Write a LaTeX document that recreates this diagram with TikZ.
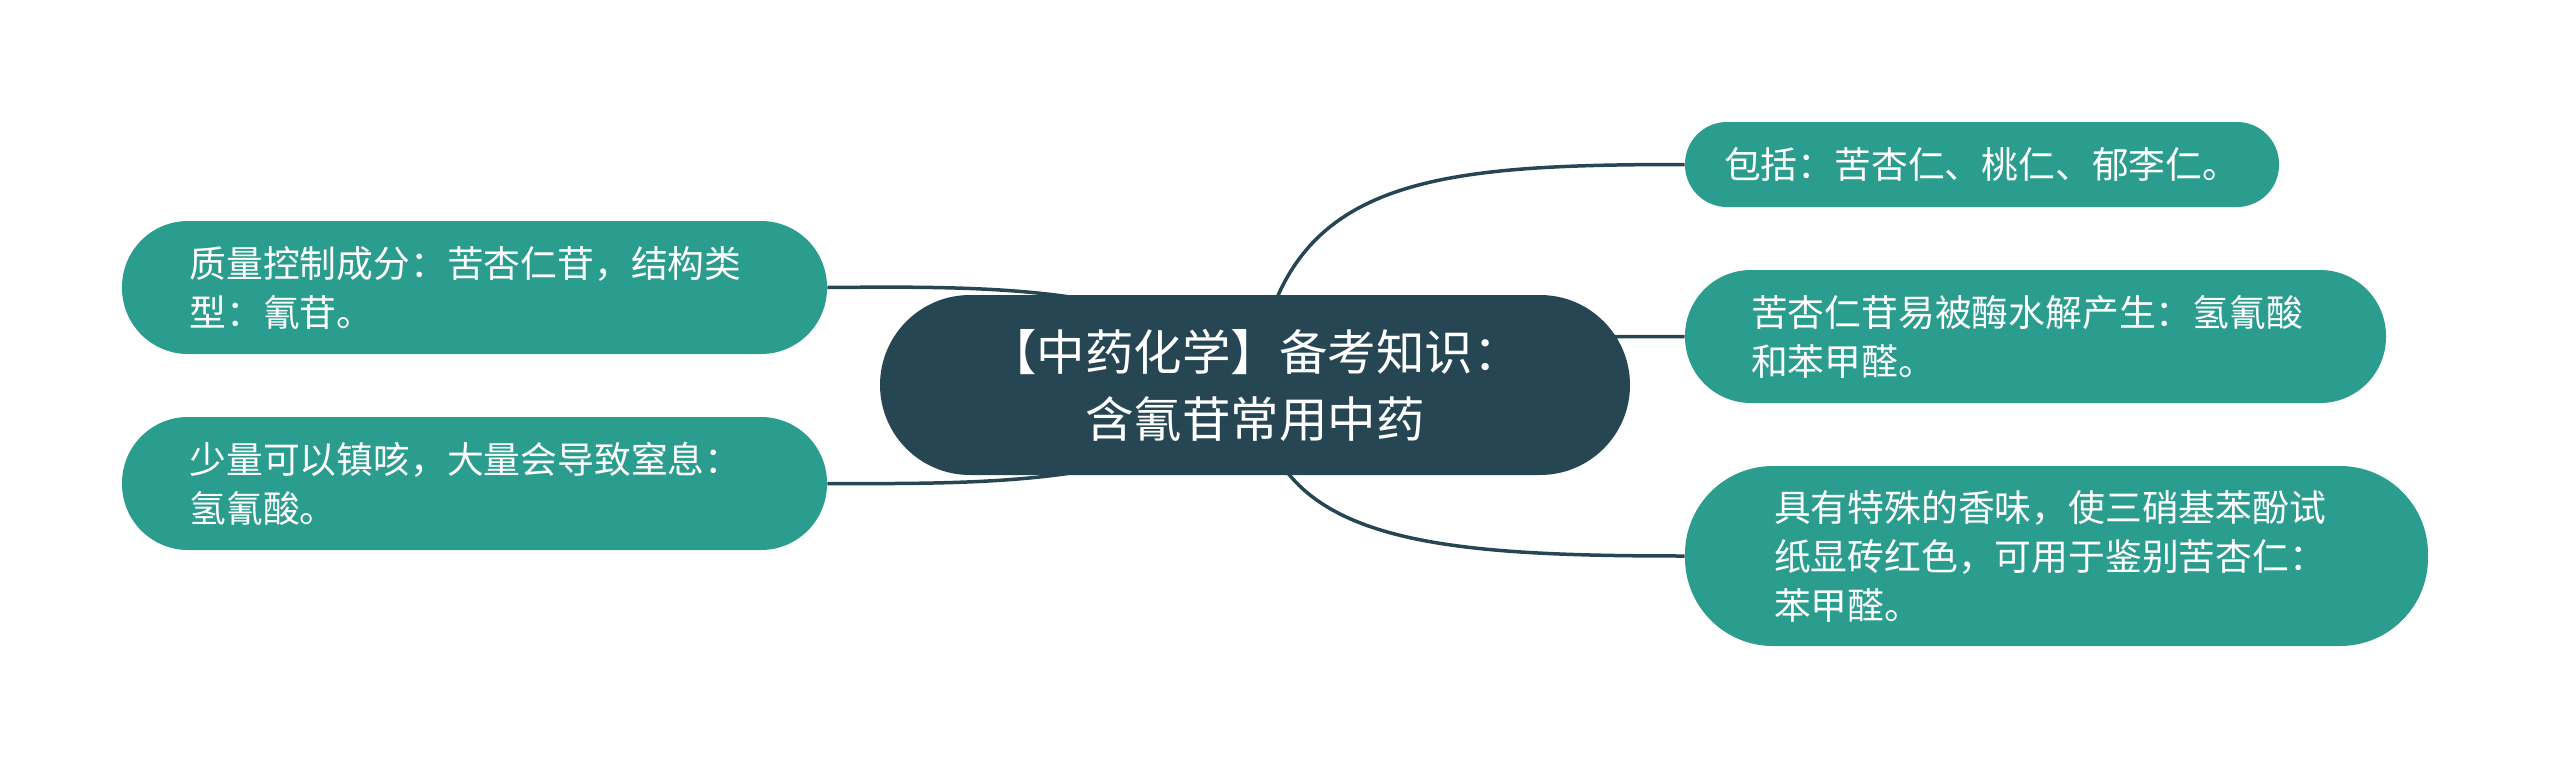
\documentclass[tikz,border=0pt]{standalone}
\usepackage{fontspec}
\setmainfont{Noto Sans CJK SC}
\usetikzlibrary{backgrounds}
\definecolor{rootcol}{HTML}{264653}
\definecolor{leafcol}{HTML}{2A9D8F}

\begin{document}
\begin{tikzpicture}[x=0.5pt, y=-0.5pt,
    rootbox/.style={fill=rootcol, text=white, rounded corners=45pt, minimum width=375pt, minimum height=90pt, inner sep=0pt, align=center, font=\fontsize{24.25pt}{33.5pt}\selectfont},
    leaf/.style={fill=leafcol, text=white, inner sep=0pt, align=left, font=\fontsize{18.4pt}{24.5pt}\selectfont},
    link/.style={draw=rootcol, line width=1.75pt}]
        \useasboundingbox (0,0) rectangle (2560,771);

        % Draw the root
        \node[rootbox] (root) at (1255, 385) {【中药化学】备考知识：\\含氰苷常用中药};

        % Draw the left leaves
        \node[leaf, minimum width=352.5pt, minimum height=66.5pt, rounded corners=33pt, text width=285pt] (quality) at (474.5, 287.5) {质量控制成分：苦杏仁苷，结构类\\型：氰苷。};
        \node[leaf, minimum width=352.5pt, minimum height=66.5pt, rounded corners=33pt, text width=285pt] (cough) at (474.5, 483.5) {少量可以镇咳，大量会导致窒息：\\氢氰酸。};

        % Draw the right leaves
        \node[leaf, minimum width=297pt, minimum height=42.5pt, rounded corners=21pt, text width=258pt] (include) at (1982, 164.5) {包括：苦杏仁、桃仁、郁李仁。};
        \node[leaf, minimum width=350.5pt, minimum height=66.5pt, rounded corners=33pt, text width=284.5pt] (hydro) at (2035.5, 336.5) {苦杏仁苷易被酶水解产生：氢氰酸\\和苯甲醛。};
        \node[leaf, minimum width=371.5pt, minimum height=90pt, rounded corners=44pt, text width=282.5pt] (benz) at (2056.5, 556) {具有特殊的香味，使三硝基苯酚试\\纸显砖红色，可用于鉴别苦杏仁：\\苯甲醛。};

        % Draw the links
        \begin{pgfonlayer}{background}
        \draw[link] (root.center) .. controls (1180,285) and (1000,286) .. (quality.east);
        \draw[link] (root.center) .. controls (1180,485) and (1000,484) .. (cough.east);
        \draw[link] (root.center) .. controls (1280,180) and (1420,164.5) .. (include.west);
        \draw[link] (root.center) .. controls (1450,336.5) and (1550,336.5) .. (hydro.west);
        \draw[link] (root.center) .. controls (1270,540) and (1420,556) .. (benz.west);
        \end{pgfonlayer}

    \end{tikzpicture}
\end{document}
